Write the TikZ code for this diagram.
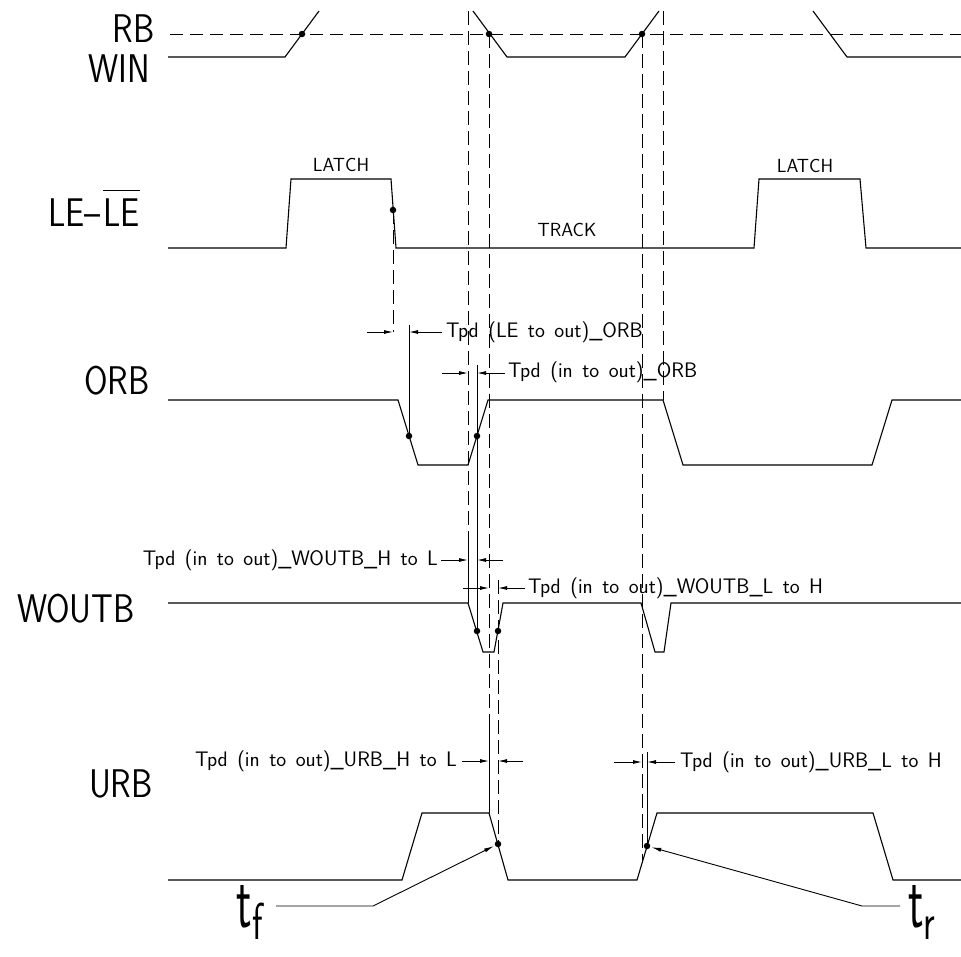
\documentclass[tikz,border=0pt]{standalone}
\usepackage{fontspec}
\usepackage{graphicx}
\usetikzlibrary{arrows.meta}
\newcommand\tpdfont{\sffamily\fontsize{21}{21}\selectfont\spaceskip=0.45em plus 0.1em\relax}
\begin{document}
\begin{tikzpicture}[x=1pt,y=-1pt,
  sig/.style={line width=1.1pt, line join=miter},
  guide/.style={line width=1pt, dash pattern=on 14pt off 6pt},
  rbdash/.style={line width=1pt, dash pattern=on 13pt off 7pt},
  refl/.style={line width=1pt},
  dimarrow/.style={line width=0.9pt, -{Latex[length=9pt,width=4pt]}},
  lead/.style={line width=0.9pt, -{Latex[length=10pt,width=4pt]}, shorten >=1pt},
  dotn/.style={circle, fill, inner sep=0pt, minimum size=6.5pt},
  big/.style={font=\sffamily\fontsize{40}{40}\selectfont, inner sep=0pt},
  small/.style={font=\tpdfont, inner sep=0pt},
  tag/.style={font=\sffamily\fontsize{19}{19}\selectfont, inner sep=0pt}]
\useasboundingbox[fill=white] (0,0) rectangle (961,956);

% ---------- signal names ----------
\node[big, anchor=east] (lRB) at (155,29) {\scalebox{0.85}[1]{RB}};
\node[big, anchor=east] (lWIN) at (150,69) {\scalebox{0.85}[1]{WIN}};
\node[big, anchor=east] (lLEa) at (101,213) {\scalebox{0.85}[1]{LE--}};
\node[big, anchor=west] (lLEb) at (103,213) {\scalebox{0.85}[1]{LE}};
\draw[line width=1.1pt] ([yshift=8pt]lLEb.north west) -- ([yshift=8pt]lLEb.north east);
\node[big, anchor=east] (lORB) at (150,381) {\scalebox{0.85}[1]{ORB}};
\node[big, anchor=east] (lWOUTB) at (135,609) {\scalebox{0.85}[1]{WOUTB}};
\node[big, anchor=east] (lURB) at (153,784) {\scalebox{0.85}[1]{URB}};

% ---------- RB reference and WIN ----------
\coordinate (rbL) at (170,34);
\coordinate (rbR) at (961,34);
\draw[rbdash] (rbL) -- (rbR);
\draw[sig] (168,57) -- (285,57) -- (319,11);
\draw[sig] (473,11) -- (507,57) -- (625,57) -- (659,11);
\draw[sig] (813,11) -- (847,57) -- (961,57);

% ---------- LE ----------
\draw[sig] (168,248) -- (286,248) -- (291,179) -- (391,179) -- (396,248)
  -- (754,248) -- (759,179) -- (860,179) -- (866,248) -- (961,248);
\node[tag] (latch1) at (341,165) {LATCH};
\node[tag] (latch2) at (805,166) {LATCH};
\node[tag] (track) at (567,230) {TRACK};

% ---------- ORB ----------
\draw[sig] (168,400) -- (398,400) -- (418,465) -- (468,465) -- (488,400)
  -- (663,400) -- (683,465) -- (872,465) -- (892,400) -- (961,400);

% ---------- WOUTB ----------
\draw[sig] (168,603) -- (468,603) -- (483,652) -- (494,652) -- (503,603)
  -- (641,603) -- (655,652) -- (664,652) -- (671,603) -- (961,603);

% ---------- URB ----------
\draw[sig] (168,880) -- (402,880) -- (422,813) -- (489,813) -- (508,880)
  -- (637,880) -- (657,813) -- (873,813) -- (893,880) -- (961,880);

% ---------- guide lines ----------
\draw[guide] (468,11) -- (468,545);
\draw[refl] (468,545) -- (468,603);
\draw[refl] (477,365) -- (477,631);
\draw[guide] (489,34) -- (489,720);
\draw[refl] (489,720) -- (489,813);
\draw[guide] (498,580) -- (498,844);
\draw[guide] (642,34) -- (642,863);
\draw[guide] (663,11) -- (663,400);
\draw[refl] (647,752) -- (647,846);
\draw[guide] (393,210) -- (393,332);
\draw[refl] (409,325) -- (409,436);

% ---------- dots ----------
\node[dotn] (dW1) at (302,34) {};
\node[dotn] (dW2) at (489,34) {};
\node[dotn] (dW3) at (642,34) {};
\node[dotn] (dLE) at (393,210) {};
\node[dotn] (dO1) at (409,436) {};
\node[dotn] (dO2) at (477,436) {};
\node[dotn] (dWo1) at (477,631) {};
\node[dotn] (dWo2) at (498,631) {};
\node[dotn] (dUf) at (498,844) {};
\node[dotn] (dUr) at (647,846) {};

% ---------- dimension arrows ----------
\draw[dimarrow] (367,332) -- (393,332);
\draw[dimarrow] (442,332) -- (409,332);
\node[small, anchor=west] (t1) at (446,332) {Tpd (LE to out)\_ORB};

\draw[dimarrow] (442,373) -- (468,373);
\draw[dimarrow] (505,373) -- (477,373);
\node[small, anchor=west] (t2) at (508,372) {Tpd (in to out)\_ORB};

\draw[dimarrow] (441,560) -- (468,560);
\draw[dimarrow] (503,560) -- (477,560);
\node[small, anchor=east] (t3) at (438,560) {Tpd (in to out)\_WOUTB\_H to L};

\draw[dimarrow] (463,588) -- (489,588);
\draw[dimarrow] (525,588) -- (498,588);
\node[small, anchor=west] (t4) at (528,588) {Tpd (in to out)\_WOUTB\_L to H};

\draw[dimarrow] (462,761) -- (489,761);
\draw[dimarrow] (523,761) -- (498,761);
\node[small, anchor=east] (t5) at (457,761) {Tpd (in to out)\_URB\_H to L};

\draw[dimarrow] (614,762) -- (642,762);
\draw[dimarrow] (675,762) -- (647,762);
\node[small, anchor=west] (t6) at (680,762) {Tpd (in to out)\_URB\_L to H};

% ---------- tf / tr ----------
\node[inner sep=0pt, anchor=east, font=\sffamily] (tf) at (263,912)
  {\fontsize{76}{76}\selectfont\scalebox{0.6}[1]{t}\raisebox{-12pt}{\fontsize{52}{52}\selectfont\scalebox{0.7}[1]{f}}};
\node[inner sep=0pt, anchor=west, font=\sffamily] (tr) at (908,912)
  {\fontsize{76}{76}\selectfont\scalebox{0.6}[1]{t}\raisebox{-12pt}{\fontsize{52}{52}\selectfont\scalebox{0.7}[1]{r}}};
\coordinate (tfa) at (276,906);
\coordinate (tfb) at (373,906);
\coordinate (tra) at (900,906);
\coordinate (trb) at (862,906);
\draw[lead] (tfa) -- (tfb) -- (dUf);
\draw[lead] (tra) -- (trb) -- (dUr);
\end{tikzpicture}
\end{document}
